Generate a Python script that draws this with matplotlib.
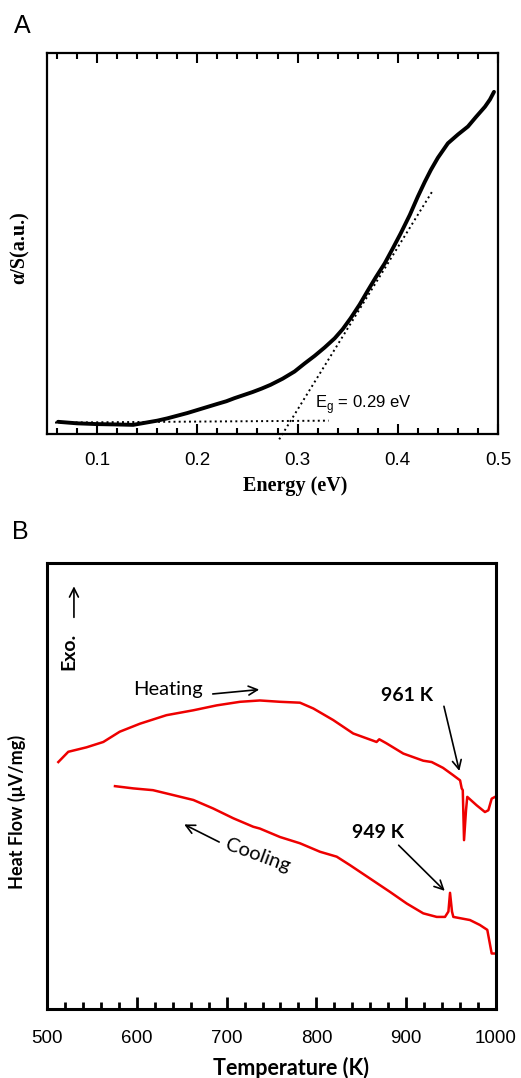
import numpy as np
import matplotlib
matplotlib.use("Agg")
import matplotlib.pyplot as plt

# --- Painel A: absorcao optica ---
energia = [0.061, 0.08, 0.10, 0.12, 0.136, 0.16, 0.17, 0.18, 0.19, 0.20, 0.21, 0.22,
           0.229, 0.237, 0.246, 0.255, 0.264, 0.273, 0.285, 0.297, 0.307, 0.317, 0.327,
           0.337, 0.345, 0.353, 0.362, 0.370, 0.378, 0.387, 0.395, 0.403, 0.412, 0.420,
           0.427, 0.433, 0.440, 0.450, 0.460, 0.470, 0.478, 0.487, 0.492, 0.496]
alfa_s = [0.032, 0.028, 0.026, 0.025, 0.024, 0.035, 0.041, 0.048, 0.055, 0.063, 0.071, 0.079,
          0.086, 0.094, 0.102, 0.110, 0.119, 0.129, 0.145, 0.164, 0.185, 0.205, 0.227,
          0.251, 0.275, 0.304, 0.340, 0.376, 0.411, 0.448, 0.487, 0.527, 0.575, 0.623,
          0.662, 0.693, 0.725, 0.763, 0.786, 0.807, 0.832, 0.859, 0.878, 0.898]
base_x = [0.058, 0.331]
base_y = [0.030, 0.035]
tang_x = [0.2817, 0.434]
tang_y = [-0.014, 0.635]

# --- Painel B: DSC ---
t_aquec = [512.6, 523.7, 544, 562.7, 581, 603.6, 633, 663, 689, 715, 737, 759.5,
           781.7, 796.6, 818.8, 841, 861.6, 867, 870, 878, 896.8, 919, 928.4, 941,
           952, 960, 961.8, 963, 964.4, 966.6, 968, 978.5, 987.7, 991.5, 995.2, 999]
f_aquec = [0.554, 0.577, 0.587, 0.599, 0.622, 0.640, 0.659, 0.670, 0.681, 0.689, 0.692, 0.689,
           0.687, 0.674, 0.648, 0.618, 0.603, 0.599, 0.605, 0.596, 0.573, 0.557, 0.554, 0.541,
           0.525, 0.513, 0.495, 0.491, 0.379, 0.446, 0.476, 0.457, 0.442, 0.446, 0.472, 0.476]
t_resf = [575.7, 596, 618, 640.6, 663, 685, 707.5, 729.7, 737, 759.5, 781.7, 804, 822.6,
          837.4, 859.7, 882, 900.6, 919, 934, 943.2, 947, 948.8, 951, 952.5, 971, 982,
          990.3, 995.2, 1000]
f_resf = [0.500, 0.495, 0.491, 0.480, 0.469, 0.450, 0.428, 0.409, 0.405, 0.386, 0.372, 0.353, 0.342,
          0.323, 0.293, 0.263, 0.237, 0.215, 0.207, 0.207, 0.219, 0.261, 0.219, 0.207, 0.200, 0.189,
          0.178, 0.125, 0.125]

W, H = 521, 1078
fig = plt.figure(figsize=(W / 100, H / 100), dpi=100)


def px(x, y):
    # converte pixel (origem no topo) para coordenadas da figura
    return x / W, 1 - y / H


# ---------------- Painel A ----------------
axA = fig.add_axes([47 / W, 1 - 434 / H, 451 / W, 381 / H])
axA.plot(energia, alfa_s, color="black", lw=2.8, solid_capstyle="round", solid_joinstyle="round")
axA.plot(base_x, base_y, color="black", ls=":", lw=1.4)
axA.plot(tang_x, tang_y, color="black", ls=":", lw=1.4, clip_on=False)
axA.text(0.3176, 0.076, r"E$_\mathregular{g}$ = 0.29 eV", fontsize=12,
         family="Liberation Sans", va="center", ha="left")
axA.set_xlim(0.05, 0.5)
axA.set_ylim(0, 1)
axA.set_xticks([0.1, 0.2, 0.3, 0.4, 0.5])
axA.set_xticklabels(["0.1", "0.2", "0.3", "0.4", "0.5"], family="Liberation Sans", fontsize=13.5)
axA.set_xticks(np.arange(0.06, 0.5, 0.02), minor=True)
axA.set_yticks([])
axA.tick_params(axis="x", which="both", direction="in", top=True, width=1.5, pad=13)
axA.tick_params(axis="x", which="major", length=7)
axA.tick_params(axis="x", which="minor", length=4.5)
for s in axA.spines.values():
    s.set_linewidth(1.6)

fig.text(*px(295, 486), "Energy (eV)", family="Liberation Serif", weight="bold",
         fontsize=14.5, ha="center", va="center")
fig.text(*px(20, 248), "α/S(a.u.)", family="Liberation Serif", weight="bold",
         fontsize=14.5, ha="center", va="center", rotation=90)
fig.text(*px(22, 26), "A", family="Liberation Sans", fontsize=18, ha="center", va="center")

# ---------------- Painel B ----------------
axB = fig.add_axes([47 / W, 1 - 1009.3 / H, 449 / W, 446.3 / H])
axB.plot(t_aquec, f_aquec, color="#ee0000", lw=1.8)
axB.plot(t_resf, f_resf, color="#ee0000", lw=1.8)
axB.set_xlim(500, 1000)
axB.set_ylim(0, 1)
axB.set_xticks([500, 600, 700, 800, 900, 1000])
axB.set_xticklabels(["500", "600", "700", "800", "900", "1000"], family="Liberation Sans", fontsize=13.5)
axB.set_xticks(np.arange(520, 1000, 20), minor=True)
axB.set_yticks([])
axB.tick_params(axis="x", which="both", direction="in", width=2, pad=15)
axB.tick_params(axis="x", which="major", length=9)
axB.tick_params(axis="x", which="minor", length=5)
for s in axB.spines.values():
    s.set_linewidth(2.2)

seta = dict(arrowstyle="->", color="black", lw=1.2, mutation_scale=16)
fonte = "Lato"

axB.text(634.7, 0.716, "Heating", family=fonte, fontsize=14.5, ha="center", va="center")
axB.annotate("", xy=(739.4, 0.717), xytext=(681.5, 0.706), arrowprops=seta)

axB.text(735, 0.345, "Cooling", family=fonte, fontsize=14.5, ha="center", va="center", rotation=-20)
axB.annotate("", xy=(650, 0.417), xytext=(694.5, 0.372), arrowprops=seta)

axB.text(901.4, 0.704, "961 K", family=fonte, weight="bold", fontsize=14, ha="center", va="center")
axB.annotate("", xy=(959.9, 0.528), xytext=(941.3, 0.685), arrowprops=seta)

axB.text(869, 0.396, "949 K", family=fonte, weight="bold", fontsize=14, ha="center", va="center")
axB.annotate("", xy=(945.1, 0.261), xytext=(889.4, 0.372), arrowprops=seta)

axB.text(524, 0.803, "Exo.", family=fonte, weight="bold", fontsize=14, ha="center", va="center",
         rotation=90)
axB.annotate("", xy=(530, 0.954), xytext=(530, 0.872), arrowprops=seta)

fig.text(*px(291, 1068), "Temperature (K)", family=fonte, weight="bold",
         fontsize=15.5, ha="center", va="center")
fig.text(*px(17, 812), "Heat Flow (μV/mg)", family=fonte, weight="bold",
         fontsize=13, ha="center", va="center", rotation=90)
fig.text(*px(20, 532), "B", family="Liberation Sans", fontsize=18, ha="center", va="center")

fig.savefig("out.png", dpi=100)
